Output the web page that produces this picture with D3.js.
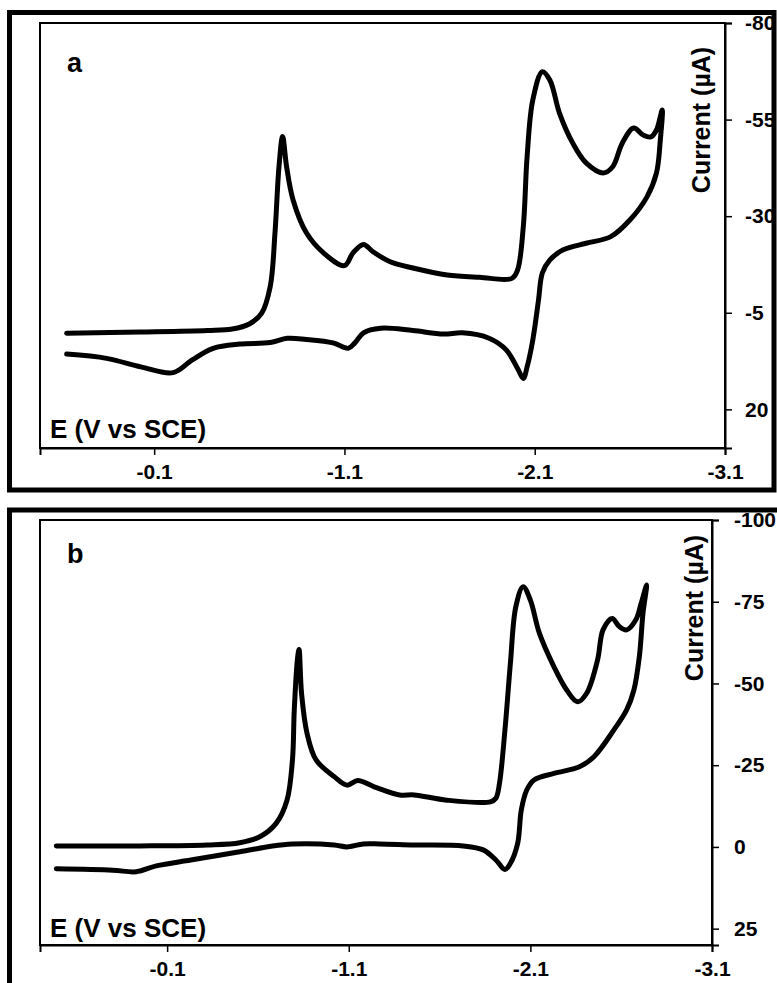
<!DOCTYPE html>
<html>
<head>
<meta charset="utf-8">
<script src="https://cdn.jsdelivr.net/npm/d3@7"></script>
<style>
  body { margin: 0; background: #fff; }
  svg text { font-family: "Liberation Sans", Arial, sans-serif; font-weight: bold; fill: #000; }
</style>
</head>
<body>
<div id="chart"></div>
<script>
// Cyclic voltammograms, panels a and b

const xTicks = [-0.1, -1.1, -2.1, -3.1];
const panelLabels = ["a", "b"];

// panel a
const potentialA = [0.36, -0.03, -0.38, -0.51, -0.60, -0.665, -0.71, -0.735, -0.756, -0.775,
    -0.796, -0.83, -0.90, -0.99, -1.10, -1.145, -1.20, -1.25, -1.34, -1.46,
    -1.64, -1.81, -1.98, -2.01, -2.04, -2.06, -2.09, -2.14, -2.18, -2.23,
    -2.30, -2.37, -2.46, -2.51, -2.56, -2.62, -2.67, -2.71, -2.74, -2.77,
    -2.76, -2.74, -2.69, -2.60, -2.50, -2.37, -2.25, -2.18, -2.14, -2.12,
    -2.09, -2.06, -2.04, -2.01, -1.95, -1.86, -1.72, -1.62, -1.46, -1.29,
    -1.20, -1.155, -1.12, -1.04, -0.90, -0.80, -0.71, -0.55, -0.41, -0.30,
    -0.20, -0.03, 0.15, 0.36];
const currentA = [0.3, 0.0, -0.4, -0.8, -2.1, -4.9, -11.8, -25.7, -42.8, -50.6,
    -42.8, -34.2, -25.7, -20.5, -17.2, -20.5, -22.7, -20.8, -18.2, -16.6,
    -14.8, -14.2, -13.9, -16.1, -27.3, -45.4, -60.1, -67.4, -65.2, -56.7,
    -48.9, -43.8, -41.2, -42.8, -48.9, -52.8, -51.0, -50.5, -52.3, -57.5,
    -49.7, -41.2, -35.0, -29.0, -24.7, -23.0, -21.3, -18.7, -15.3, -8.3,
    2.0, 9.0, 12.0, 9.4, 4.6, 1.6, 0.2, 0.5, -0.4, -1.0,
    0.2, 2.8, 4.2, 2.8, 1.9, 1.6, 2.7, 3.1, 4.2, 7.2,
    10.5, 9.0, 6.8, 5.7];
const yTicksA = [-80, -55, -30, -5, 20];

// panel b
const potentialB = [0.51, 0.05, -0.32, -0.50, -0.61, -0.70, -0.76, -0.79, -0.80, -0.817,
    -0.826, -0.84, -0.87, -0.92, -1.02, -1.09, -1.15, -1.24, -1.38, -1.46,
    -1.64, -1.88, -1.91, -1.93, -1.96, -1.99, -2.02, -2.06, -2.10, -2.15,
    -2.23, -2.30, -2.36, -2.41, -2.47, -2.50, -2.55, -2.59, -2.63, -2.68,
    -2.71, -2.74,
    -2.72, -2.70, -2.67, -2.63, -2.56, -2.45, -2.37, -2.23, -2.12, -2.08,
    -2.05, -2.03, -1.99, -1.96, -1.91, -1.84, -1.73, -1.46, -1.27, -1.18,
    -1.09, -1.02, -0.79, -0.68, -0.50, -0.23, -0.04, 0.07, 0.20, 0.51];
const currentB = [-0.3, -0.3, -0.6, -1.3, -3.1, -7.2, -14.3, -26.6, -41.9, -57.2,
    -60.4, -47.0, -34.8, -26.6, -21.5, -18.9, -20.3, -18.4, -15.9, -15.9,
    -14.3, -13.8, -14.9, -19.5, -35.8, -56.2, -73.5, -79.6, -75.5, -65.3,
    -55.1, -48.0, -44.4, -47.0, -57.2, -66.4, -69.9, -67.4, -66.4, -69.4,
    -74.5, -80.1,
    -71.5, -58.2, -48.0, -41.9, -35.8, -27.6, -24.5, -22.5, -20.5, -17.4,
    -11.3, -1.1, 5.0, 6.9, 4.0, 0.9, -0.3, -0.6, -0.9, -0.9,
    0.0, -0.6, -0.9, -0.3, 1.5, 4.0, 5.8, 7.6, 7.1, 6.7];
const yTicksB = [-100, -75, -50, -25, 0, 25];

const svg = d3.select("#chart")
    .append("svg")
    .attr("width", 777)
    .attr("height", 983);

svg.append("rect").attr("width", 777).attr("height", 983).attr("fill", "#fff");

function drawPanel(opt) {
    // outer thick frame
    svg.append("rect")
        .attr("x", opt.frame[0]).attr("y", opt.frame[1])
        .attr("width", opt.frame[2]).attr("height", opt.frame[3])
        .attr("fill", "none").attr("stroke", "#000").attr("stroke-width", 5);

    const g = svg.append("g").attr("transform", `translate(${opt.left},${opt.top})`);
    const w = opt.width, h = opt.height;

    const x = d3.scaleLinear().domain(opt.xDomain).range([0, w]);
    const y = d3.scaleLinear().domain(opt.yDomain).range([0, h]);

    // plot box
    g.append("rect")
        .attr("width", w).attr("height", h)
        .attr("fill", "none").attr("stroke", "#000").attr("stroke-width", 2);

    // bottom axis
    const xAxis = g.append("g")
        .attr("transform", `translate(0,${h})`)
        .call(d3.axisBottom(x).tickValues(xTicks).tickSize(7).tickPadding(9)
            .tickFormat(d => d.toFixed(1)));
    xAxis.select(".domain").attr("stroke-width", 2);
    xAxis.selectAll(".tick line").attr("stroke-width", 1.5);
    xAxis.selectAll("text").style("font-size", "21px").attr("font-family", null);

    // right axis
    const yAxis = g.append("g")
        .attr("transform", `translate(${w},0)`)
        .call(d3.axisRight(y).tickValues(opt.yTicks).tickSize(7).tickPadding(opt.yPad)
            .tickFormat(d => String(d)));
    yAxis.select(".domain").attr("stroke-width", 2);
    yAxis.selectAll(".tick line").attr("stroke-width", 1.5);
    yAxis.selectAll("text").style("font-size", "21px").attr("font-family", null);

    // the curve
    const pts = opt.potential.map((e, i) => [e, opt.current[i]]);
    const line = d3.line()
        .x(d => x(d[0]))
        .y(d => y(d[1]))
        .curve(d3.curveCatmullRom.alpha(0.5));

    g.append("path")
        .datum(pts)
        .attr("d", line)
        .attr("fill", "none")
        .attr("stroke", "#000")
        .attr("stroke-width", 5)
        .attr("stroke-linejoin", "round")
        .attr("stroke-linecap", "round");

    // axis titles and panel letter
    g.append("text")
        .attr("x", 10)
        .attr("y", h - opt.eOffset)
        .style("font-size", "26px")
        .text("E (V vs SCE)");

    g.append("text")
        .attr("transform", `translate(${opt.curX},${opt.curY}) rotate(-90)`)
        .attr("text-anchor", "middle")
        .style("font-size", "25px")
        .text("Current (µA)");

    g.append("text")
        .attr("x", 27)
        .attr("y", opt.letterY)
        .style("font-size", "27px")
        .text(opt.letter);
}

drawPanel({
    frame: [9.5, 12.5, 764.5, 477.5],
    left: 40, top: 23, width: 685, height: 425,
    xDomain: [0.5, -3.1], yDomain: [-80, 30],
    yTicks: yTicksA, yPad: 13,
    potential: potentialA, current: currentA,
    eOffset: 10, curX: 670, curY: 97, letterY: 49,
    letter: panelLabels[0]
});

drawPanel({
    frame: [9.5, 510, 780, 490],
    left: 40, top: 520, width: 672, height: 425,
    xDomain: [0.6, -3.1], yDomain: [-100, 30],
    yTicks: yTicksB, yPad: 15,
    potential: potentialB, current: currentB,
    eOffset: 8, curX: 663, curY: 88, letterY: 43,
    letter: panelLabels[1]
});
</script>
</body>
</html>
